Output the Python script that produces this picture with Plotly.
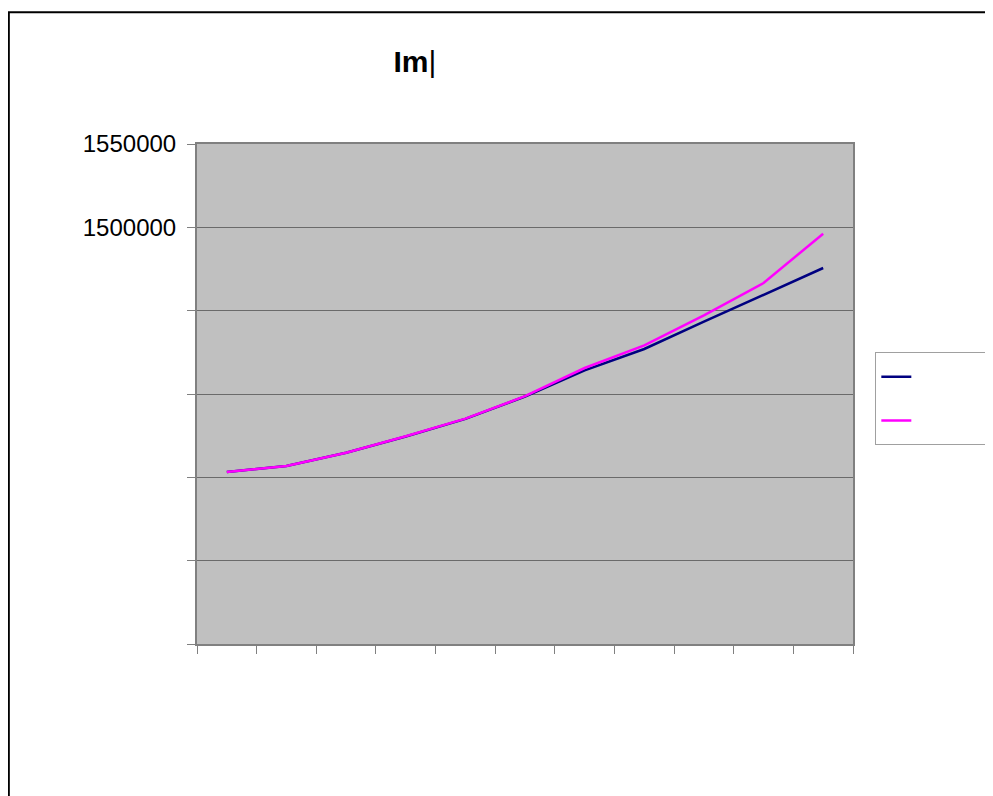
import plotly.graph_objects as go

categories = [1, 2, 3, 4, 5, 6, 7, 8, 9, 10, 11]
series_navy = [1353200, 1356800, 1364800, 1374500, 1385100, 1398500, 1414200, 1427000, 1443400, 1459400, 1475600]
series_pink = [1353200, 1356800, 1364800, 1374600, 1385200, 1398700, 1415600, 1429200, 1447200, 1466600, 1496200]
y_tickvals = [1250000, 1300000, 1350000, 1400000, 1450000, 1500000, 1550000]
y_ticktext = ["", "", "", "", "", "1500000", "1550000"]
x_tickvals = [0.5, 1.5, 2.5, 3.5, 4.5, 5.5, 6.5, 7.5, 8.5, 9.5, 10.5, 11.5]
title_text = "<b>Im</b>|"

fig = go.Figure()
fig.add_trace(go.Scatter(x=categories, y=series_navy, mode="lines", name="\u00a0" * 30,
                         line=dict(color="#000080", width=2.5), legendgroup="a"))
fig.add_trace(go.Scatter(x=categories, y=series_pink, mode="lines", name="\u00a0" * 30,
                         line=dict(color="#FF00FF", width=2.5), legendgroup="b"))

# page body offset (default 8px margin) compensated
OFF = 8
W, H = 985, 788
L, R, T, B = 197.3 - OFF, 852.7 - OFF, 144.3 - OFF, 643.7 - OFF
pw, ph = R - L, B - T

def px(x):
    return (x - OFF - L) / pw

def py(y):
    return (B - (y - OFF)) / ph

fig.update_layout(
    width=W, height=H,
    margin=dict(l=L, r=W - R, t=T, b=H - B, autoexpand=False),
    paper_bgcolor="white",
    plot_bgcolor="#C0C0C0",
    font=dict(family="Liberation Sans, Arial, sans-serif", color="black"),
    title=dict(text=title_text, xref="paper", x=px(415), xanchor="center",
               yref="container", y=1 - (61 - OFF) / H, yanchor="middle",
               font=dict(size=30, family="Liberation Sans, Arial, sans-serif", color="black")),
    showlegend=True,
    legend=dict(x=px(875), xanchor="left", y=py(352.3), yanchor="top",
                bgcolor="white", bordercolor="#A0A0A0", borderwidth=1,
                font=dict(size=26), tracegroupgap=7, traceorder="grouped"),
    xaxis=dict(range=[0.5, 11.5], tickvals=x_tickvals, ticktext=[""] * len(x_tickvals),
               ticks="outside", ticklen=8, tickcolor="#808080", tickwidth=1,
               showgrid=False, zeroline=False, showline=True, linecolor="#808080", linewidth=2,
               mirror=True),
    yaxis=dict(range=[1250000, 1550000], tickvals=y_tickvals, ticktext=y_ticktext,
               ticks="outside", ticklen=8, tickcolor="#808080", tickwidth=1,
               tickfont=dict(size=24, color="black"), ticklabelstandoff=6,
               showgrid=True, gridcolor="#6A6A6A", gridwidth=1, zeroline=False,
               showline=True, linecolor="#808080", linewidth=2, mirror=True),
    shapes=[dict(type="rect", xref="paper", yref="paper",
                 x0=px(9.2), x1=px(1060), y0=py(12.7), y1=py(860),
                 line=dict(color="black", width=2.2), fillcolor="rgba(0,0,0,0)", layer="below")],
)

fig.write_html("out.html")
